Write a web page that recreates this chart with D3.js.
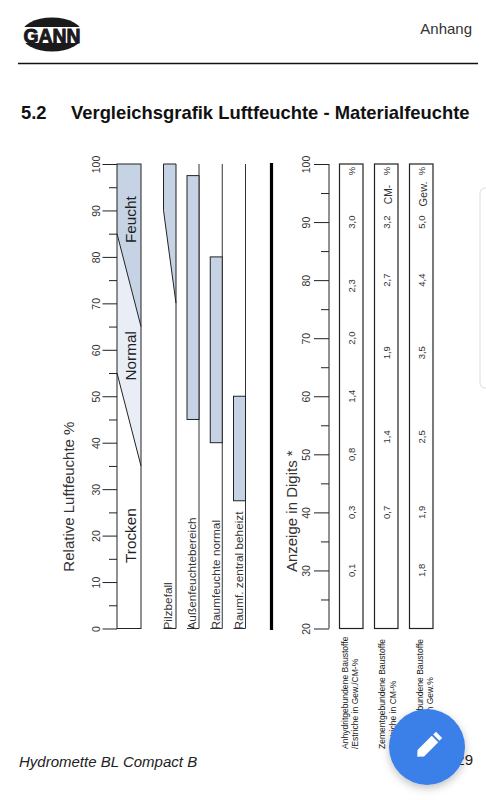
<!DOCTYPE html>
<html><head><meta charset="utf-8">
<script src="https://d3js.org/d3.v7.min.js"></script>
<style>html,body{margin:0;padding:0;background:#fff}svg{display:block}text{font-family:"Liberation Sans",Arial,sans-serif}</style>
</head><body><div id="c"></div>
<script>
// Data
const humidityTicks = d3.range(0, 101, 5);
const digitTicks = d3.range(20, 101, 5);
const zoneNames = ["Trocken", "Normal", "Feucht"];
const zoneLabelAt = [20, 58.7, 88];
// boundaries of the wedge zones: humidity at left / right edge of the band
const feuchtEdge = [85, 65];
const trockenEdge = [55, 35];
const pilzEdge = [90, 70];
const rangeNames = ["Außenfeuchtebereich", "Raumfeuchte normal", "Raumf. zentral beheizt"];
const rangeLow = [45, 40, 27.5];
const rangeHigh = [97.5, 80, 50];
const pilzName = "Pilzbefall";
const matLine1 = ["Anhydritgebundene Baustoffe", "Zementgebundene Baustoffe", "Zementgebundene Baustoffe"];
const matLine2 = ["/Estriche in Gew./CM-%", "/Estriche in CM-%", "/Estriche in Gew.%"];
const matUnits = ["", "CM-", "Gew."];
const matDigits = [
  [90, 79, 70, 60, 50, 40, 30],
  [90, 80, 67.5, 53, 40],
  [90, 80, 67.5, 53, 40, 30]
];
const matValues = [
  ["3,0", "2,3", "2,0", "1,4", "0,8", "0,3", "0,1"],
  ["3,2", "2,7", "1,9", "1,4", "0,7"],
  ["5,0", "4,4", "3,5", "2,5", "1,9", "1,8"]
];

const W = 486, H = 800, TOP = 164, BOT = 628.5;
const svg = d3.select("#c").append("svg").attr("width", W).attr("height", H);
const yH = d3.scaleLinear().domain([0, 100]).range([BOT, TOP]);
const yD = d3.scaleLinear().domain([20, 100]).range([BOT, TOP]);
const DARK = "#222", FILL = "#c6d3e4", PALE = "#e9eef6";

const vtext = (x, y, s, size, opts = {}) => svg.append("text")
  .attr("transform", `translate(${x},${y}) rotate(-90)`)
  .attr("font-size", size).attr("fill", opts.fill || "#222")
  .attr("text-anchor", opts.anchor || "middle").text(s);

// Header
svg.append("line").attr("x1", 18).attr("x2", 478).attr("y1", 63.5).attr("y2", 63.5).attr("stroke", "#111").attr("stroke-width", 1.3);
svg.append("text").attr("x", 472).attr("y", 34).attr("text-anchor", "end").attr("font-size", 15).attr("fill", "#333").text("Anhang");
svg.append("text").attr("x", 21).attr("y", 119).attr("font-size", 18.4).attr("font-weight", "bold").attr("fill", "#111").text("5.2");
svg.append("text").attr("x", 71).attr("y", 119).attr("font-size", 18.4).attr("font-weight", "bold").attr("fill", "#111").text("Vergleichsgrafik Luftfeuchte - Materialfeuchte");
// Logo
svg.append("ellipse").attr("cx", 52).attr("cy", 34.5).attr("rx", 31).attr("ry", 17).attr("fill", "#1a1a1a");
svg.append("rect").attr("x", 18).attr("y", 27).attr("width", 68).attr("height", 16).attr("fill", "#fff");
svg.append("text").attr("x", 52).attr("y", 42.5).attr("text-anchor", "middle").attr("font-size", 20.5).attr("font-weight", "bold").attr("textLength", 57).attr("lengthAdjust", "spacingAndGlyphs").attr("stroke", "#1a1a1a").attr("stroke-width", 1).attr("fill", "#1a1a1a").text("GANN");

// Left axis
const leftAxis = d3.axisLeft(yH).tickValues(humidityTicks).tickSize(0).tickFormat("");
const gL = svg.append("g").attr("transform", "translate(117,0)").call(leftAxis);
gL.select(".domain").remove();
gL.selectAll(".tick").each(function (d) {
  const major = d % 10 === 0;
  d3.select(this).select("line").attr("x2", major ? -14.5 : -8).attr("stroke", DARK).attr("stroke-width", 1);
  if (major) d3.select(this).select("text").attr("transform", "translate(-17,0) rotate(-90)").attr("x", 0).attr("y", 0).attr("dy", 0).attr("text-anchor", "middle").attr("font-size", 10.5).attr("fill", "#333").text(d);
});

// Zone band
const bandL = 117, bandR = 141;
const poly = pts => d3.line()(pts);
svg.append("path").attr("fill", FILL).attr("d", poly([[bandL, yH(100)], [bandR, yH(100)], [bandR, yH(feuchtEdge[1])], [bandL, yH(feuchtEdge[0])]]) + "Z");
svg.append("path").attr("fill", PALE).attr("d", poly([[bandL, yH(feuchtEdge[0])], [bandR, yH(feuchtEdge[1])], [bandR, yH(trockenEdge[1])], [bandL, yH(trockenEdge[0])]]) + "Z");
svg.append("path").attr("fill", "none").attr("stroke", DARK).attr("d", poly([[bandL, yH(feuchtEdge[0])], [bandR, yH(feuchtEdge[1])]]) + poly([[bandL, yH(trockenEdge[0])], [bandR, yH(trockenEdge[1])]]));
svg.append("rect").attr("x", bandL).attr("y", yH(100)).attr("width", bandR - bandL).attr("height", yH(0) - yH(100)).attr("fill", "none").attr("stroke", DARK);
zoneNames.forEach((n, i) => vtext(136.3, yH(zoneLabelAt[i]), n, 15.3, { fill: "#222" }));
vtext(73.5, yH(28.4), "Relative Luftfeuchte %", 15, { fill: "#333" });

// Pilzbefall
const pL = 163.5, pR = 176;
svg.append("path").attr("fill", FILL).attr("stroke", DARK).attr("d", poly([[pL, yH(pilzEdge[0])], [pL, yH(100)], [pR, yH(100)], [pR, yH(pilzEdge[1])]]) + "Z");
svg.append("path").attr("fill", "none").attr("stroke", DARK).attr("d", poly([[pR, yH(pilzEdge[1])], [pR, yH(0)], [pL, yH(0)]]));
vtext(172.3, BOT + 1, pilzName, 11.8, { anchor: "start", fill: "#333" });

// Range columns
const rangeX = d3.scalePoint().domain(rangeNames).range([187, 233.5]);
rangeNames.forEach((n, i) => {
  const x = rangeX(n), r = x + 12;
  svg.append("path").attr("fill", "none").attr("stroke", "#333").attr("d", poly([[r, yH(100)], [r, yH(0)], [x, yH(0)]]));
  svg.append("rect").attr("x", x).attr("y", yH(rangeHigh[i])).attr("width", 12).attr("height", yH(rangeLow[i]) - yH(rangeHigh[i])).attr("fill", FILL).attr("stroke", DARK);
  vtext(x + 9.3, BOT + 1, n, 11.8, { anchor: "start", fill: "#333" });
});

// Separator
svg.append("line").attr("x1", 271.5).attr("x2", 271.5).attr("y1", 163).attr("y2", 630).attr("stroke", "#000").attr("stroke-width", 3.2);

// Right axis
const rightAxis = d3.axisLeft(yD).tickValues(digitTicks).tickSize(0).tickFormat("");
const gR = svg.append("g").attr("transform", "translate(329,0)").call(rightAxis);
gR.select(".domain").attr("d", `M0,${TOP}V${BOT}`).attr("stroke", DARK);
gR.selectAll(".tick").each(function (d) {
  const major = d % 10 === 0;
  d3.select(this).select("line").attr("x2", major ? -15 : -8).attr("stroke", DARK).attr("stroke-width", 1);
  if (major) d3.select(this).select("text").attr("transform", "translate(-19,0) rotate(-90)").attr("x", 0).attr("y", 0).attr("dy", 0).attr("text-anchor", "middle").attr("font-size", 10.5).attr("fill", "#333").text(d);
});
vtext(297, yD(40.2), "Anzeige in Digits *", 15, { fill: "#333" });

// Material boxes
const boxX = d3.scalePoint().domain([0, 1, 2]).range([339.5, 409.5]);
const line1Dx = [8.5, 10.5, 13.5], line2Dx = [18, 21.5, 23.5];
matValues.forEach((vals, i) => {
  const x = boxX(i);
  svg.append("rect").attr("x", x).attr("y", TOP).attr("width", 23.5).attr("height", BOT - TOP).attr("fill", "#fff").attr("stroke", DARK).attr("stroke-width", 1.2);
  vals.forEach((v, j) => vtext(x + 15, yD(matDigits[i][j]), v, 9.5, { fill: "#333" }));
  vtext(x + 15.5, 171, "%", 9.5, { fill: "#333" });
  if (matUnits[i]) vtext(x + 17.5, i === 1 ? 194.5 : 194, matUnits[i], i === 1 ? 10.2 : 11, { fill: "#333" });
  vtext(x + line1Dx[i], 749, matLine1[i], 8.55, { anchor: "start", fill: "#222" });
  vtext(x + line2Dx[i], 749, matLine2[i], 8.55, { anchor: "start", fill: "#222" });
});

// Side panel (edge of neighbouring UI)
svg.append("rect").attr("x", 480).attr("y", 188).attr("width", 20).attr("height", 200).attr("rx", 5).attr("fill", "#fff").attr("stroke", "#ddd");

// Footer
svg.append("text").attr("x", 19).attr("y", 767).attr("font-size", 15).attr("font-style", "italic").attr("fill", "#222").text("Hydromette BL Compact B");
svg.append("text").attr("x", 473).attr("y", 765).attr("text-anchor", "end").attr("font-size", 15).attr("fill", "#222").text("29");

// Floating button
const defs = svg.append("defs");
const f = defs.append("filter").attr("id", "sh").attr("x", "-30%").attr("y", "-30%").attr("width", "160%").attr("height", "160%");
f.append("feDropShadow").attr("dx", 0).attr("dy", 3).attr("stdDeviation", 4).attr("flood-color", "#000").attr("flood-opacity", 0.25);
svg.append("circle").attr("cx", 427).attr("cy", 747).attr("r", 38).attr("fill", "#3b80e8").attr("filter", "url(#sh)");
const pen = svg.append("g").attr("transform", "translate(427,747) rotate(45) scale(1.1)").attr("fill", "#fff");
pen.append("path").attr("d", "M-4,-15.5 L4,-15.5 L4,-12 L-4,-12Z");
pen.append("path").attr("d", "M-4.2,-10.3 L4.2,-10.3 L4.2,8 L0,12.5 L-4.2,8Z");
</script></body></html>
